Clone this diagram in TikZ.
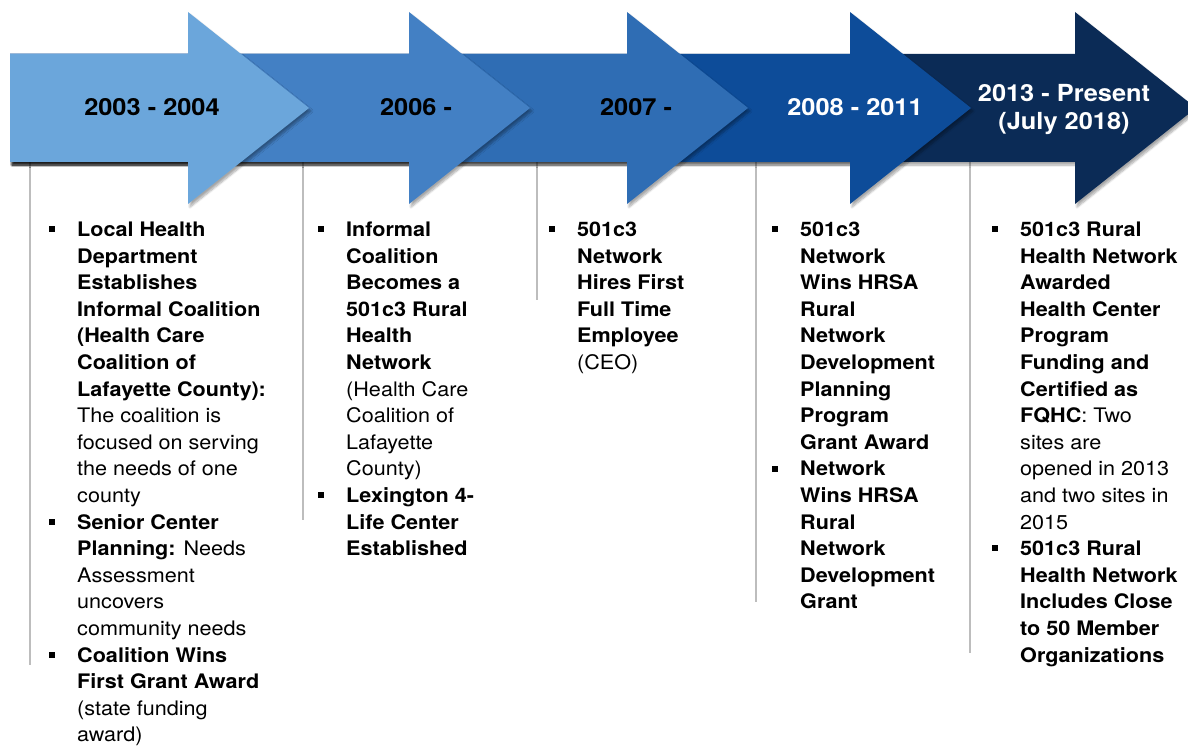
\documentclass[tikz,border=0pt]{standalone}
\usepackage{fontspec}
\setmainfont[FakeStretch=1.08]{TeX Gyre Heros}
\usetikzlibrary{shadows.blur}
\definecolor{StepOne}{HTML}{6BA6DB}
\definecolor{StepTwo}{HTML}{4380C4}
\definecolor{StepThree}{HTML}{2F6DB4}
\definecolor{StepFour}{HTML}{0D4C99}
\definecolor{StepFive}{HTML}{0B2B56}
\definecolor{GuideGray}{HTML}{BDBDBD}
% square bullet hung left of the text
\newcommand{\bul}{\llap{\rule[4.2pt]{6pt}{6pt}\hspace{22pt}}}
% first line strut, fixes the first baseline
\newcommand{\fl}{\rule{0pt}{17pt}}
% one timeline arrow: #1 = x of head base, #2 = colour
\newcommand{\tlarrow}[2]{%
  \fill[#2, arrow shadow] (10,54) -- (#1,54) -- (#1,12) -- ++(121,96)
    -- (#1,204) -- (#1,162) -- (10,162) -- cycle;}

\begin{document}
\begin{tikzpicture}[x=1pt, y=-1pt,
   year/.style={font=\fontsize{23.5}{28}\selectfont\bfseries, align=center, inner sep=0pt},
   col/.style={anchor=north west, inner sep=0pt, align=left, font=\fontsize{20}{26.6}\selectfont},
   guide/.style={draw=GuideGray, line width=1.1pt},
   arrow shadow/.style={blur shadow={shadow xshift=2pt, shadow yshift=-3pt,
                        shadow blur steps=8, shadow opacity=35}}]
  \useasboundingbox (0,0) rectangle (1188,746);

  % guide lines under the arrows
  \draw[guide] (30,150) -- (30,665);
  \draw[guide] (303,150) -- (303,520);
  \draw[guide] (537,150) -- (537,300);
  \draw[guide] (756,150) -- (756,602);
  \draw[guide] (970,150) -- (970,653);

  % arrows, back to front
  \tlarrow{1075}{StepFive}
  \tlarrow{850}{StepFour}
  \tlarrow{627}{StepThree}
  \tlarrow{409}{StepTwo}
  \tlarrow{188}{StepOne}

  \node[year] (y1) at (152,107) {2003 - 2004};
  \node[year] (y2) at (416,107) {2006 -};
  \node[year] (y3) at (636,107) {2007 -};
  \node[year, text=white] (y4) at (855,107) {2008 - 2011};
  \node[year, text=white] (y5) at (1064,110) {2013 - Present\\(July 2018)};

  % milestones
  \node[col] (c1) at (77,219.2) {\fl\bul\textbf{Local Health}\\
    \textbf{Department}\\
    \textbf{Establishes}\\
    \textbf{Informal Coalition}\\
    \textbf{(Health Care}\\
    \textbf{Coalition of}\\
    \textbf{Lafayette County):}\\
    The coalition is\\
    focused on serving\\
    the needs of one\\
    county\\
    \bul\textbf{Senior Center}\\
    \textbf{Planning:} Needs\\
    Assessment\\
    uncovers\\
    community needs\\
    \bul\textbf{Coalition Wins}\\
    \textbf{First Grant Award}\\
    (state funding\\
    award)};

  \node[col] (c2) at (346,219.2) {\fl\bul\textbf{Informal}\\
    \textbf{Coalition}\\
    \textbf{Becomes a}\\
    \textbf{501c3 Rural}\\
    \textbf{Health}\\
    \textbf{Network}\\
    (Health Care\\
    Coalition of\\
    Lafayette\\
    County)\\
    \bul\textbf{Lexington 4-}\\
    \textbf{Life Center}\\
    \textbf{Established}};

  \node[col] (c3) at (577,219.2) {\fl\bul\textbf{501c3}\\
    \textbf{Network}\\
    \textbf{Hires First}\\
    \textbf{Full Time}\\
    \textbf{Employee}\\
    (CEO)};

  \node[col] (c4) at (800,219.2) {\fl\bul\textbf{501c3}\\
    \textbf{Network}\\
    \textbf{Wins HRSA}\\
    \textbf{Rural}\\
    \textbf{Network}\\
    \textbf{Development}\\
    \textbf{Planning}\\
    \textbf{Program}\\
    \textbf{Grant Award}\\
    \bul\textbf{Network}\\
    \textbf{Wins HRSA}\\
    \textbf{Rural}\\
    \textbf{Network}\\
    \textbf{Development}\\
    \textbf{Grant}};

  \node[col] (c5) at (1020,219.2) {\fl\bul\textbf{501c3 Rural}\\
    \textbf{Health Network}\\
    \textbf{Awarded}\\
    \textbf{Health Center}\\
    \textbf{Program}\\
    \textbf{Funding and}\\
    \textbf{Certified as}\\
    \textbf{FQHC}: Two\\
    sites are\\
    opened in 2013\\
    and two sites in\\
    2015\\
    \bul\textbf{501c3 Rural}\\
    \textbf{Health Network}\\
    \textbf{Includes Close}\\
    \textbf{to 50 Member}\\
    \textbf{Organizations}};
\end{tikzpicture}
\end{document}
